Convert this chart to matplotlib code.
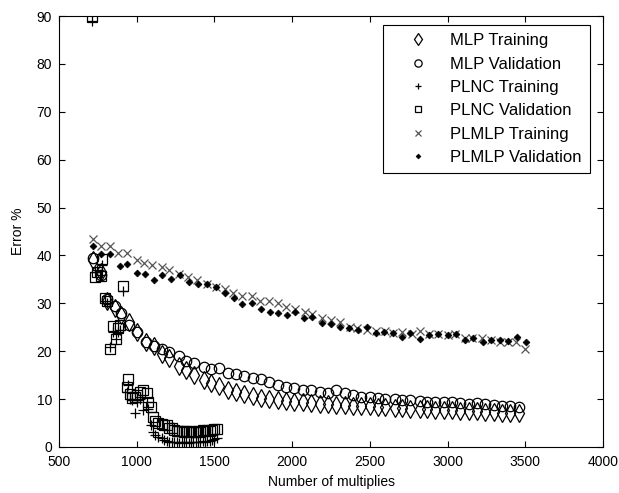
import matplotlib
matplotlib.use("Agg")
import matplotlib.pyplot as plt

plt.rcParams['font.family'] = ['Liberation Sans', 'DejaVu Sans']

# MLP
mlp_x = [720, 770, 810, 860, 900, 950, 1000, 1060, 1110, 1160, 1210, 1270, 1320, 1370,
         1430, 1480, 1530, 1590, 1640, 1690, 1750, 1800, 1850, 1910, 1960, 2010, 2070,
         2120, 2180, 2230, 2280, 2340, 2390, 2440, 2500, 2550, 2600, 2660, 2710, 2760,
         2820, 2870, 2920, 2980, 3030, 3080, 3140, 3190, 3240, 3300, 3350, 3400, 3460]
mlp_train = [39, 36.5, 30.5, 29, 27.5, 26, 24, 22, 21, 19.5, 18.5, 17, 16, 15,
             14, 13.3, 12.8, 12, 11.5, 11, 10.6, 10.3, 10, 9.8, 9.6, 9.5, 9.3,
             9.2, 9, 9, 8.8, 8.7, 8.6, 8.5, 8.5, 8.4, 8.3, 8.2, 8.1, 8,
             8, 7.9, 7.8, 7.8, 7.7, 7.6, 7.5, 7.5, 7.4, 7.3, 7.2, 7.1, 7.0]
mlp_val = [39.5, 36, 31, 29.5, 28, 25.5, 24, 22, 21, 20.5, 19.8, 19, 18, 17.5,
           16.8, 16.3, 16.5, 15.5, 15.2, 14.8, 14.5, 14.3, 13.5, 13, 12.6, 12.3, 12,
           11.8, 11.5, 11.3, 11.8, 11.2, 10.8, 10.5, 10.5, 10.2, 10, 10, 9.8, 9.8,
           9.6, 9.5, 9.3, 9.4, 9.3, 9.2, 9, 9.1, 8.9, 8.8, 8.6, 8.5, 8.3]

# PLNC
plnc_x = [714, 731, 744, 768, 774, 796, 807, 828, 849, 866, 881, 892, 913, 935, 946,
          957, 970, 988, 1005, 1020, 1042, 1064, 1075, 1090, 1106, 1120, 1138, 1160,
          1175, 1192, 1210, 1225, 1240, 1257, 1275, 1290, 1305, 1320, 1335, 1350, 1365,
          1380, 1395, 1410, 1425, 1440, 1455, 1470, 1485, 1500, 1514]
plnc_train = [89, 36.5, 37, 36, 38, 30.5, 30, 20.8, 24, 22.5, 24, 24.5, 32.5, 11.5, 13,
              10, 9.8, 7.1, 9.5, 10, 7.7, 9.5, 8, 4.5, 3.2, 2.5, 2.1, 1.8,
              1.5, 1.3, 1.1, 1, 1, 1.1, 0.8, 1, 1, 1.1, 0.9, 1, 1,
              1.1, 1.1, 1, 1.2, 1.1, 1.3, 1.2, 1.4, 1.6, 1.8]
plnc_val = [89.8, 35.5, 36.5, 35.8, 39.3, 31.2, 30.5, 20.5, 25.2, 22.6, 24.8, 25.5, 33.6, 12.5, 14.2,
            11, 10.3, 10.5, 10.8, 11.4, 11.8, 11.2, 9.5, 8.3, 6.3, 5.5, 5, 4.9,
            4.5, 4.6, 4, 3.9, 3.6, 3.4, 3.3, 3.3, 3.2, 3.3, 3.2, 3.3, 3.2,
            3.1, 3.3, 3.2, 3.5, 3.3, 3.6, 3.4, 3.6, 3.8, 3.7]

# PLMLP
plmlp_tx = [720, 770, 830, 880, 935, 1000, 1050, 1100, 1160, 1210, 1270, 1330, 1390, 1450,
            1510, 1570, 1620, 1680, 1740, 1790, 1850, 1910, 1960, 2020, 2080, 2130, 2190,
            2250, 2310, 2370, 2420, 2480, 2540, 2600, 2650, 2710, 2770, 2820, 2880, 2940,
            3000, 3050, 3110, 3160, 3220, 3280, 3340, 3390, 3440, 3500]
plmlp_train = [43.5, 42, 42, 40.5, 40.5, 39, 38.5, 38, 37.5, 37, 36.2, 35.5, 34.8, 34,
               33.5, 33, 32.2, 31.5, 31.5, 30.5, 30.5, 30, 29.3, 28.8, 28.2, 27.8, 27,
               26.5, 26, 25, 24.8, 24.5, 24.3, 24.2, 23.8, 24, 23.5, 24.2, 23.5, 23.5,
               23.3, 23.5, 22.8, 22.8, 22.7, 22.3, 22, 22, 22, 20.5]
plmlp_vx = [720, 770, 830, 890, 940, 1000, 1055, 1110, 1165, 1220, 1280, 1335, 1395, 1450,
            1510, 1570, 1625, 1680, 1740, 1800, 1855, 1910, 1965, 2020, 2075, 2130, 2195,
            2250, 2305, 2365, 2425, 2480, 2540, 2590, 2650, 2705, 2760, 2820, 2880, 2940,
            3000, 3055, 3110, 3165, 3225, 3280, 3335, 3390, 3445, 3505]
plmlp_val = [42, 40.3, 40.3, 37.8, 38.3, 36.4, 36.2, 34.9, 35.9, 35.1, 35.9, 34.4, 34, 34,
             33.5, 32.1, 31.1, 29.9, 30, 28.8, 28.2, 27.9, 27.6, 28.2, 27, 27.2, 25.9,
             25.6, 25.1, 24.8, 24.4, 25.1, 23.9, 24.1, 23.8, 23, 23.8, 22.5, 23.3, 23.5,
             23.4, 23.6, 22.3, 22.7, 22, 22.3, 22.3, 22.2, 22.9, 22]

labels = ['MLP Training', 'MLP Validation', 'PLNC Training', 'PLNC Validation',
          'PLMLP Training', 'PLMLP Validation']

fig = plt.figure(figsize=(6.19, 4.93), dpi=100)
ax = fig.add_axes([59/619, 1-447/493, 544/619, 431/493])

ax.plot(mlp_x, mlp_train, linestyle='none', marker='d', markersize=9, mfc='none', mec='black', mew=0.9, label=labels[0])
ax.plot(mlp_x, mlp_val, linestyle='none', marker='o', markersize=7.5, mfc='none', mec='black', mew=0.9, label=labels[1])
ax.plot(plnc_x, plnc_train, linestyle='none', marker='+', markersize=7, mec='black', mew=0.9, label=labels[2])
ax.plot(plnc_x, plnc_val, linestyle='none', marker='s', markersize=6.5, mfc='none', mec='black', mew=0.9, label=labels[3])
ax.plot(plmlp_tx, plmlp_train, linestyle='none', marker='x', markersize=5.5, mec='#555555', mew=0.9, label=labels[4])
ax.plot(plmlp_vx, plmlp_val, linestyle='none', marker='D', markersize=3.5, mfc='black', mec='black', mew=0.5, label=labels[5])

ax.set_xlim(500, 4000)
ax.set_ylim(0, 90)
ax.set_xticks([500, 1000, 1500, 2000, 2500, 3000, 3500, 4000])
ax.set_yticks(range(0, 91, 10))
ax.tick_params(direction='in', top=True, right=True, length=4, width=0.8, labelsize=10)
ax.tick_params(axis='x', pad=6)
ax.tick_params(axis='y', pad=5)
for s in ax.spines.values():
    s.set_linewidth(0.8)
ax.set_xlabel('Number of multiplies', fontsize=10, labelpad=4)
ax.set_ylabel('Error %', fontsize=10, labelpad=8)

leg = ax.legend(loc='upper right', bbox_to_anchor=((590-59)/544, (447-25)/431),
                borderaxespad=0, fontsize=12, fancybox=False, edgecolor='black',
                framealpha=1, labelspacing=0.5, handletextpad=0.3, borderpad=0.5,
                handlelength=3.2, markerscale=0.7)
leg.get_frame().set_linewidth(0.8)

fig.savefig('out.png', dpi=100)
